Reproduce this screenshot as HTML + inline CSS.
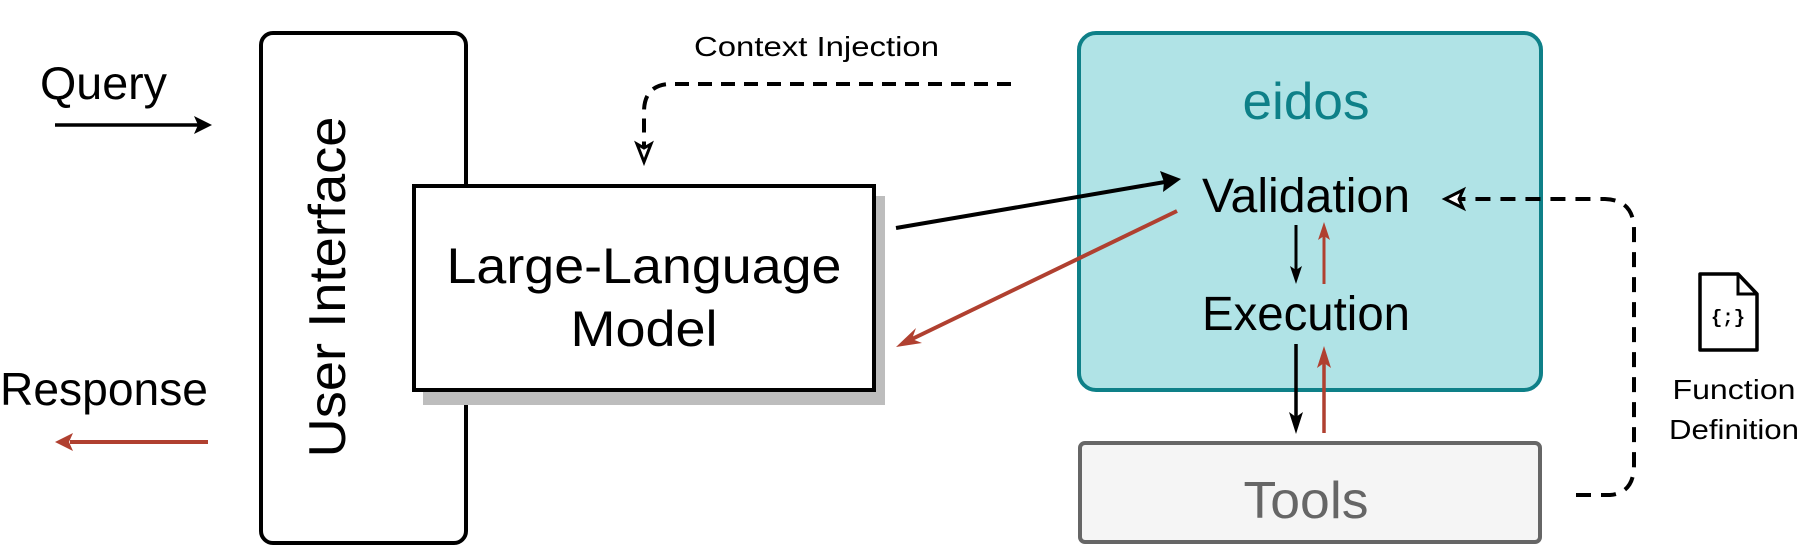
<!DOCTYPE html>
<html><head><meta charset="utf-8"><style>
html,body{margin:0;padding:0;background:#fff;}
svg{display:block;font-family:"Liberation Sans",sans-serif;}
</style></head><body>
<svg width="1803" height="555" viewBox="0 0 1803 555" xmlns="http://www.w3.org/2000/svg">
<!-- UI box -->
<rect x="261" y="33" width="205" height="510" rx="12" fill="#fff" stroke="#000" stroke-width="4"/>
<text transform="translate(345,287) rotate(-90)" font-size="52" text-anchor="middle" textLength="341" lengthAdjust="spacingAndGlyphs" fill="#000">User Interface</text>
<!-- LLM shadow and box -->
<rect x="423" y="196" width="462" height="209" fill="#bdbdbd"/>
<rect x="414" y="186" width="460" height="204" fill="#fff" stroke="#000" stroke-width="4"/>
<text x="644" y="283" font-size="50" text-anchor="middle" textLength="395" lengthAdjust="spacingAndGlyphs">Large-Language</text>
<text x="644" y="346" font-size="50" text-anchor="middle" textLength="147" lengthAdjust="spacingAndGlyphs">Model</text>
<!-- Query / Response -->
<text x="40" y="99" font-size="46" textLength="127" lengthAdjust="spacingAndGlyphs">Query</text>
<line x1="55" y1="125" x2="200" y2="125" stroke="#000" stroke-width="3.5"/>
<path d="M212,125 L194,116 L198,125 L194,134 Z" fill="#000"/>
<text x="0" y="405" font-size="46" textLength="208" lengthAdjust="spacingAndGlyphs">Response</text>
<line x1="70" y1="442" x2="208" y2="442" stroke="#b04030" stroke-width="4"/>
<path d="M55,442 L73,433 L69,442 L73,451 Z" fill="#b04030"/>
<!-- Context injection -->
<text x="694" y="56" font-size="28" textLength="245" lengthAdjust="spacingAndGlyphs">Context Injection</text>
<path d="M1011,84 L668,84 Q644,86 644,112 L644,150" fill="none" stroke="#000" stroke-width="4" stroke-dasharray="14,9"/>
<path d="M644,162 L637,144 L644,148 L651,144 Z" fill="#fff" stroke="#000" stroke-width="3"/>
<!-- eidos -->
<rect x="1079" y="33" width="462" height="357" rx="17" fill="#b0e3e6" stroke="#0e8088" stroke-width="4"/>
<text x="1306" y="119" font-size="52" text-anchor="middle" textLength="127" lengthAdjust="spacingAndGlyphs" fill="#0e8088">eidos</text>
<text x="1306" y="212" font-size="48" text-anchor="middle" textLength="208" lengthAdjust="spacingAndGlyphs">Validation</text>
<text x="1306" y="330" font-size="48" text-anchor="middle" textLength="208" lengthAdjust="spacingAndGlyphs">Execution</text>
<!-- Tools -->
<rect x="1080" y="443" width="460" height="99" rx="5" fill="#f5f5f5" stroke="#666" stroke-width="4"/>
<text x="1306" y="518" font-size="52" text-anchor="middle" textLength="125" lengthAdjust="spacingAndGlyphs" fill="#666">Tools</text>
<!-- LLM -> Validation -->
<line x1="896" y1="228" x2="1165" y2="182" stroke="#000" stroke-width="4"/>
<path d="M1181,179 L1160,171 L1164,182 L1163,192 Z" fill="#000"/>
<!-- Validation -> LLM red -->
<line x1="1177" y1="211" x2="910" y2="340" stroke="#b04030" stroke-width="4"/>
<path d="M896,347 L916,328 L912,339 L922,343 Z" fill="#b04030"/>
<!-- vertical arrows -->
<line x1="1296" y1="225" x2="1296" y2="272" stroke="#000" stroke-width="3"/>
<path d="M1296,284 L1290,266 L1296,270 L1302,266 Z" fill="#000"/>
<line x1="1324" y1="284" x2="1324" y2="235" stroke="#b04030" stroke-width="3"/>
<path d="M1324,222 L1318,240 L1324,236 L1330,240 Z" fill="#b04030"/>
<line x1="1296" y1="344" x2="1296" y2="420" stroke="#000" stroke-width="3.5"/>
<path d="M1296,434 L1289,412 L1296,417 L1303,412 Z" fill="#000"/>
<line x1="1324" y1="433" x2="1324" y2="360" stroke="#b04030" stroke-width="3.5"/>
<path d="M1324,346 L1317,368 L1324,363 L1331,368 Z" fill="#b04030"/>
<!-- function definition dashed -->
<path d="M1576,495 L1610,495 Q1634,493 1634,465 L1634,230 Q1634,200 1605,199 L1460,199" fill="none" stroke="#000" stroke-width="4" stroke-dasharray="15,10"/>
<path d="M1445,199 L1463,190 L1459,199 L1463,208 Z" fill="#fff" stroke="#000" stroke-width="3"/>
<!-- file icon -->
<path d="M1700,274 L1738,274 L1757,294 L1757,350 L1700,350 Z" fill="#fff" stroke="#000" stroke-width="3.5" stroke-linejoin="round"/>
<path d="M1738,274 L1738,294 L1757,294" fill="none" stroke="#000" stroke-width="3"/>
<text x="1728" y="323" font-size="19" font-weight="bold" text-anchor="middle" font-family="Liberation Mono,monospace">{;}</text>
<text x="1734" y="399" font-size="28" text-anchor="middle" textLength="123" lengthAdjust="spacingAndGlyphs">Function</text>
<text x="1734" y="439" font-size="28" text-anchor="middle" textLength="130" lengthAdjust="spacingAndGlyphs">Definition</text>
</svg>
</body></html>
